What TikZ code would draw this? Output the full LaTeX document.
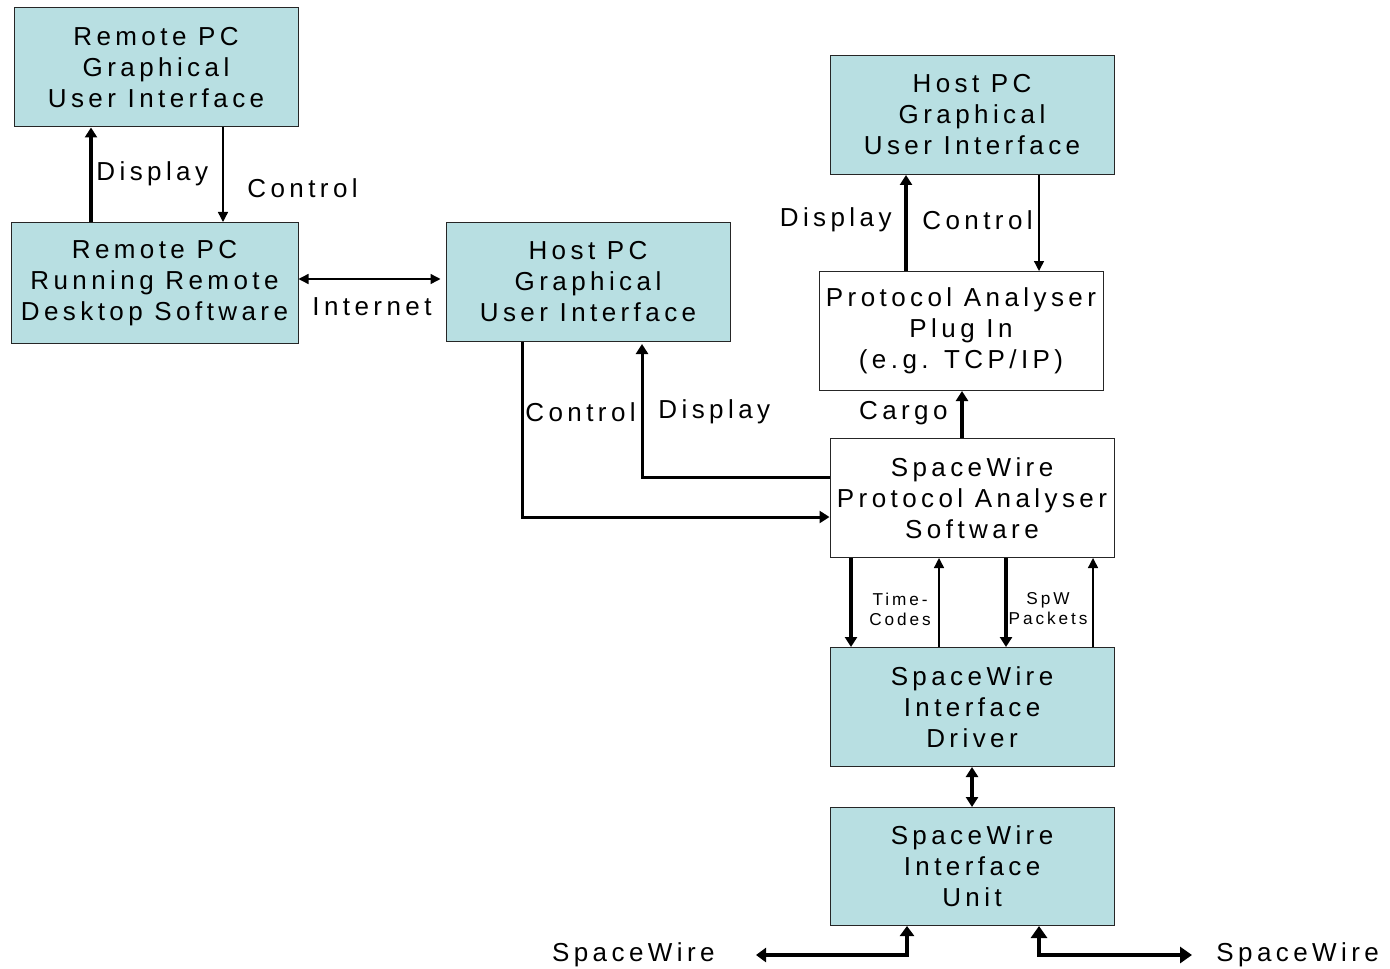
\documentclass[tikz,border=0pt]{standalone}
\usepackage{fontspec}
\setmainfont{Liberation Sans}[LetterSpace=17]
\usetikzlibrary{arrows.meta}
\definecolor{boxfill}{RGB}{184,223,226}
\begin{document}
\begin{tikzpicture}[x=0.5pt,y=-0.5pt,
  box/.style={draw=black!85, line width=0.5pt, fill=boxfill, align=center, inner sep=0pt,
    minimum width=142pt, minimum height=59.5pt, font=\fontsize{13}{15.5}\selectfont},
  wbox/.style={box, fill=white},
  thinarr/.style={line width=0.7pt, -{Triangle[length=5pt,width=5pt]}},
  thkarr/.style={line width=1.7pt, -{Triangle[length=5pt,width=6pt]}},
  lbl/.style={font=\fontsize{13}{15.5}\selectfont, inner sep=0pt},
  small/.style={font=\fontsize{8.6}{10}\selectfont, align=center, inner sep=0pt}]
\useasboundingbox (0,0) rectangle (1390,968);
% boxes
\node[box] (rgui) at (156,67.5) {Remote PC\\Graphical\\User Interface};
\node[box, minimum width=143.5pt, minimum height=60.5pt] (rpc) at (154.5,283) {Remote PC\\Running Remote\\Desktop Software};
\node[box] (hgui1) at (588,282) {Host PC\\Graphical\\User Interface};
\node[box] (hgui2) at (972,115) {Host PC\\Graphical\\User Interface};
\node[wbox] (plug) at (961,331) {Protocol Analyser\\Plug In\\(e.g. TCP/IP)};
\node[wbox] (pas) at (972,498) {SpaceWire\\Protocol Analyser\\Software};
\node[box] (drv) at (972,707) {SpaceWire\\Interface\\Driver};
\node[box, minimum height=59pt] (unit) at (972,866.5) {SpaceWire\\Interface\\Unit};
% labels
\node[lbl, anchor=west] (l1) at (96,174) {Display};
\node[lbl, anchor=west] (l2) at (247,188) {Control};
\node[lbl, anchor=west] (l3) at (312,307) {Internet};
\node[lbl, anchor=west] (l4) at (525,412) {Control};
\node[lbl, anchor=west] (l5) at (658,412) {Display};
\node[lbl, anchor=east] (l6) at (892,220) {Display};
\node[lbl, anchor=west] (l7) at (922,220) {Control};
\node[lbl, anchor=east] (l8) at (948,413) {Cargo};
\node[small] (l9) at (900,609) {Time-\\Codes};
\node[small] (l10) at (1048,609) {SpW\\Packets};
\node[lbl, anchor=east] (l11) at (715,955) {SpaceWire};
\node[lbl, anchor=west] (l12) at (1216,955) {SpaceWire};
% helper coordinates
\coordinate (a91) at (91,0);
\coordinate (a223) at (223,0);
\coordinate (y279) at (0,279);
\coordinate (a522) at (522,0);
\coordinate (y517) at (0,517);
\coordinate (a642) at (642,0);
\coordinate (y477) at (0,477);
\coordinate (a906) at (906,0);
\coordinate (a1039) at (1039,0);
\coordinate (a962) at (962,0);
\coordinate (a851) at (851,0);
\coordinate (a939) at (939,0);
\coordinate (a1006) at (1006,0);
\coordinate (a1093) at (1093,0);
\coordinate (a907) at (907,0);
\coordinate (swl) at (756,955);
\coordinate (swr) at (1192,955);
% connectors
\draw[thkarr] (rpc.north -| a91) -- (rgui.south -| a91);
\draw[thinarr] (rgui.south -| a223) -- (rpc.north -| a223);
\draw[thinarr, {Triangle[length=5pt,width=5pt]}-{Triangle[length=5pt,width=5pt]}] (rpc.east |- y279) -- ([xshift=-2.5pt]hgui1.west |- y279);
\draw[thkarr, line width=1.5pt] (hgui1.south -| a522) |- (pas.west |- y517);
\draw[thkarr, line width=1.5pt] (pas.west |- y477) -| ([yshift=-1pt]hgui1.south -| a642);
\draw[thkarr] (plug.north -| a906) -- (hgui2.south -| a906);
\draw[thinarr] (hgui2.south -| a1039) -- (plug.north -| a1039);
\draw[thkarr] (pas.north -| a962) -- (plug.south -| a962);
\draw[thkarr] (pas.south -| a851) -- (drv.north -| a851);
\draw[thinarr] (drv.north -| a939) -- (pas.south -| a939);
\draw[thkarr] (pas.south -| a1006) -- (drv.north -| a1006);
\draw[thinarr] (drv.north -| a1093) -- (pas.south -| a1093);
\draw[thkarr, {Triangle[length=5pt,width=6pt]}-{Triangle[length=5pt,width=6pt]}] (drv.south) -- (unit.north);
\draw[thkarr, {Triangle[length=5pt,width=7pt]}-{Triangle[length=5pt,width=7pt]}] (swl) -| (unit.south -| a907);
\draw[line width=2pt, {Triangle[length=6pt,width=8pt]}-{Triangle[length=6pt,width=8pt]}] (unit.south -| a1039) |- (swr);
\end{tikzpicture}
\end{document}
